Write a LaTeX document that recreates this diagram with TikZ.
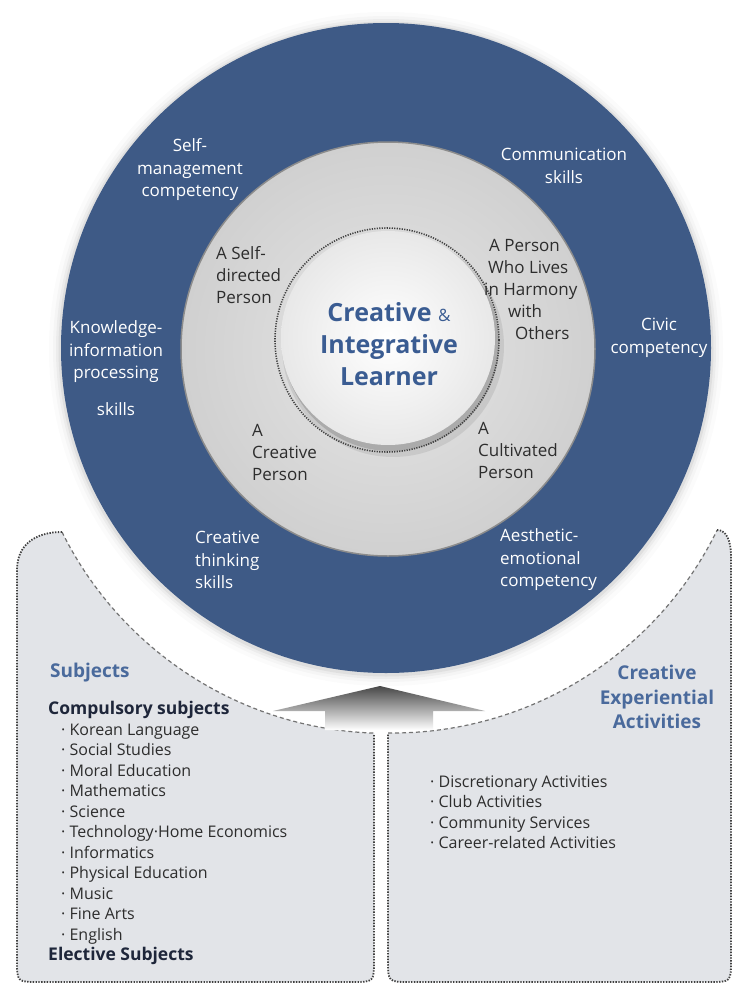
\documentclass[tikz,border=0pt]{standalone}
\usepackage{fontspec}
\setmainfont{Open Sans}
\definecolor{ringblue}{RGB}{62,90,134}
\definecolor{innerlight}{RGB}{230,230,230}
\definecolor{innerdark}{RGB}{208,208,208}
\definecolor{boxgray}{RGB}{226,228,232}
\definecolor{titleblue}{RGB}{58,92,146}
\definecolor{headblue}{RGB}{74,106,156}
\definecolor{darktext}{RGB}{45,45,45}
\definecolor{navytext}{RGB}{30,38,58}
\begin{document}
\begin{tikzpicture}[x=1pt,y=-1pt,
  ringtxt/.style={text=white,font=\fontsize{17}{22.5}\selectfont,align=center,inner sep=0pt},
  ringtxtl/.style={ringtxt,align=left,anchor=west},
  innertxt/.style={text=darktext,font=\fontsize{17}{22}\selectfont,align=left,inner sep=0pt,anchor=west},
  centertxt/.style={text=titleblue,font=\fontsize{25}{32}\selectfont\bfseries,align=center,inner sep=0pt},
  headtxt/.style={text=headblue,font=\fontsize{19}{24.5}\selectfont\bfseries,align=center,inner sep=0pt},
  listtxt/.style={text=darktext,font=\fontsize{16}{20.5}\selectfont,align=left,inner sep=0pt,anchor=west},
  dashedarc/.style={draw=black!55,line width=1.2pt,dash pattern=on 4pt off 3pt},
  dottedside/.style={draw=black!75,line width=1.8pt,dash pattern=on 1.4pt off 1.4pt},
]
\useasboundingbox[fill=white] (0,0) rectangle (734,985);

% soft halo round the ring
\foreach \r/\o in {337/0.015,333/0.025,330/0.035,327.5/0.05}
  \fill[black,opacity=\o] (386,349) circle[radius=\r pt];
% blue ring
\fill[ringblue] (386,348) circle[radius=325pt];
% inner grey disc
\shade[inner color=innerlight, outer color=innerdark] (388,349) circle[radius=207pt];
\draw[black!45,line width=1.5pt] (388,349) circle[radius=207pt];
% centre disc with shadow and dotted ring
\fill[black,opacity=0.08] (393,346) circle[radius=111pt];
\fill[black,opacity=0.15] (391,343) circle[radius=108pt];
\draw[black!75,line width=1.6pt,dash pattern=on 1.2pt off 1.3pt] (387,340) circle[radius=112pt];
\shade[inner color=white, outer color=black!9] (388,338) circle[radius=107pt];

% left box
\fill[boxgray] (17,960) -- (17,570) .. controls (17,545) and (35,532) .. (62,532)
  arc[start angle=206.35,end angle=268.1,radius=362pt]
  -- (374,960) .. controls (374,982) .. (352,982) -- (39,982) .. controls (17,982) .. (17,960) -- cycle;
\draw[dashedarc] (62,532) arc[start angle=206.35,end angle=268.1,radius=362pt];
\draw[dottedside] (62,532) .. controls (35,532) and (17,545) .. (17,570) -- (17,960)
  .. controls (17,982) .. (39,982) -- (352,982) .. controls (374,982) .. (374,960) -- (374,734);

% right box
\fill[boxgray] (388,960) -- (388,733) arc[start angle=269.37,end angle=333.93,radius=362pt]
  .. controls (726,530) and (731,540) .. (731,556) -- (731,960)
  .. controls (731,982) .. (709,982) -- (410,982) .. controls (388,982) .. (388,960) -- cycle;
\draw[dashedarc] (388,733) arc[start angle=269.37,end angle=333.93,radius=362pt];
\draw[dottedside] (717,530) .. controls (726,530) and (731,540) .. (731,556) -- (731,960)
  .. controls (731,982) .. (709,982) -- (410,982) .. controls (388,982) .. (388,960) -- (388,734);

% upward arrow
\shade[top color=black!72, bottom color=white] (380,686) -- (485,711) -- (433,711) -- (433,730)
  -- (325,730) -- (325,711) -- (273,711) -- cycle;

% centre text
\node[centertxt] (learner) at (389,344) {Creative {\fontsize{17}{32}\selectfont\mdseries\&}\\Integrative\\Learner};

% ring labels
\node[ringtxt] (selfman) at (190,170) {Self-\\management\\competency};
\node[ringtxt] (comm) at (564,166) {Communication\\skills};
\node[ringtxt] (know) at (116,368) {Knowledge-\\information\\processing\\[14pt]skills};
\node[ringtxt] (civic) at (659,338) {Civic\\competency};
\node[ringtxtl] (cthink) at (195,560) {Creative\\thinking\\skills};
\node[ringtxtl] (aesth) at (500,560) {Aesthetic-\\emotional\\competency};

% inner labels
\node[innertxt] (selfdir) at (216,275) {A Self-\\directed\\Person};
\node[innertxt] (harmony) at (484,289) {\hspace*{5pt}A Person\\\hspace*{4pt}Who Lives\\in Harmony\\\hspace*{24pt}with\\\hspace*{31pt}Others};
\node[innertxt] (creper) at (252,452) {A\\Creative\\Person};
\node[innertxt] (cultper) at (478,450) {A\\Cultivated\\Person};

% box texts
\node[headtxt,anchor=west] (subj) at (50,673) {Subjects};
\node[listtxt] (subjlist) at (48,833) {{\fontsize{17.5}{20.5}\selectfont\bfseries\color{navytext}Compulsory subjects}\\
 \hspace*{13pt}· Korean Language\\
 \hspace*{13pt}· Social Studies\\
 \hspace*{13pt}· Moral Education\\
 \hspace*{13pt}· Mathematics\\
 \hspace*{13pt}· Science\\
 \hspace*{13pt}· Technology·Home Economics\\
 \hspace*{13pt}· Informatics\\
 \hspace*{13pt}· Physical Education\\
 \hspace*{13pt}· Music\\
 \hspace*{13pt}· Fine Arts\\
 \hspace*{13pt}· English\\
 {\fontsize{17.5}{20.5}\selectfont\bfseries\color{navytext}Elective Subjects}};
\node[headtxt] (cea) at (657,697) {Creative\\Experiential\\Activities};
\node[listtxt] (cealist) at (430,812) {· Discretionary Activities\\· Club Activities\\· Community Services\\· Career-related Activities};
\end{tikzpicture}
\end{document}
